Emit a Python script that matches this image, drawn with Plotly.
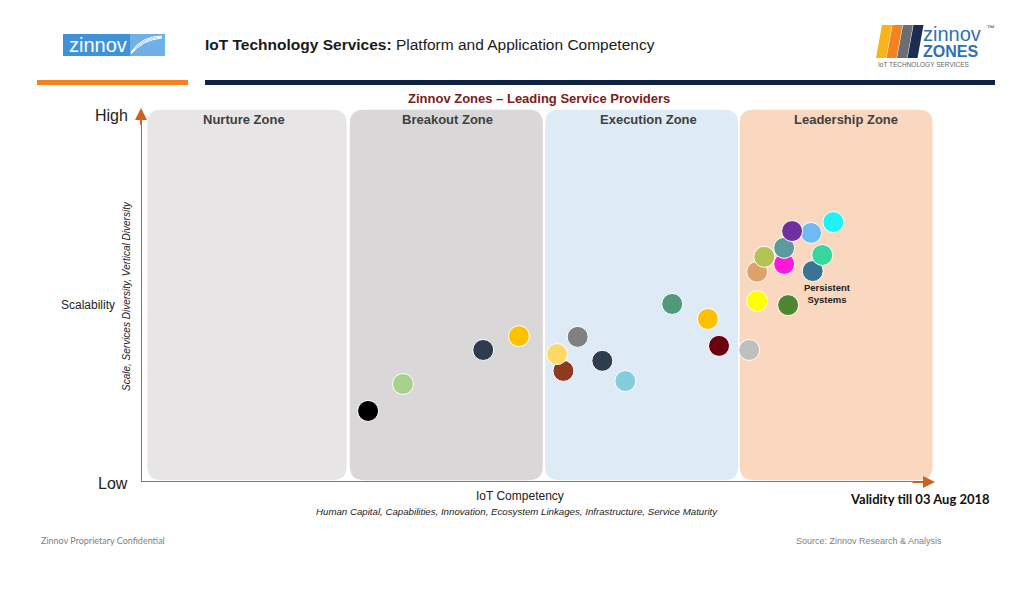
import plotly.graph_objects as go

W, H = 1024, 605

# ---------------- data ----------------
zone_names = ["Nurture Zone", "Breakout Zone", "Execution Zone", "Leadership Zone"]
zone_x0 = [0.8, 26.3, 50.9, 75.4]
zone_x1 = [25.9, 50.6, 75.2, 99.7]
zone_colors = ["#e7e5e6", "#d9d7d8", "#deeaf6", "#fad8bf"]
zone_label_shift = [-0.4, 0.1, 0.9, 1.3]

# IoT competency (x) and scalability (y) scores, drawing order = stacking order
comp = [28.6, 33.0, 43.1, 47.6, 53.2, 52.4, 55.0, 58.1, 61.0, 66.9, 71.4, 72.8,
        76.6, 77.6, 81.5, 77.6, 81.0, 81.0, 78.5, 84.6, 85.8, 84.4, 82.0, 87.2]
scal = [19.0, 26.2, 35.3, 39.0, 29.7, 34.2, 38.8, 32.4, 27.0, 47.6, 43.6, 36.4,
        35.3, 48.4, 47.3, 56.2, 58.3, 62.6, 60.2, 56.4, 60.7, 66.6, 67.1, 69.5]
bubble_colors = ["#000000", "#a9d18e", "#2f3c50", "#ffc000", "#8c3b20", "#ffd966",
                 "#808080", "#2f3c50", "#86cddc", "#4f9a7a", "#ffc000", "#6a0010",
                 "#bfbfbf", "#ffff00", "#4e8632", "#dea26c", "#ff1ada", "#5c9b9b",
                 "#b4c254", "#3a7393", "#36d89e", "#70baf3", "#7030a0", "#1ff2f2"]
highlight_name = "Persistent<br>Systems"
highlight_pos = (86.4, 50.4)


def px(x):
    return x / W


def py(y):
    return 1 - y / H


fig = go.Figure()

fig.add_trace(go.Scatter(
    x=comp, y=scal, mode="markers",
    marker=dict(size=21, color=bubble_colors, line=dict(color="white", width=1)),
    hoverinfo="skip", showlegend=False,
))

shapes = []
# zones with rounded corners (data coordinates)
rx, ry = 1.75, 3.7
y0z, y1z = 0.5, 99.5
for x0, x1, c in zip(zone_x0, zone_x1, zone_colors):
    p = (f"M {x0+rx},{y0z} L {x1-rx},{y0z} Q {x1},{y0z} {x1},{y0z+ry} "
         f"L {x1},{y1z-ry} Q {x1},{y1z} {x1-rx},{y1z} L {x0+rx},{y1z} "
         f"Q {x0},{y1z} {x0},{y1z-ry} L {x0},{y0z+ry} Q {x0},{y0z} {x0+rx},{y0z} Z")
    shapes.append(dict(type="path", path=p, xref="x", yref="y", fillcolor=c,
                       line=dict(width=0), layer="below"))

# axis lines
axis_col = "#d0601e"
shapes.append(dict(type="line", xref="x", yref="y", x0=0, y0=0, x1=99, y1=0,
                   line=dict(color=axis_col, width=2)))
shapes.append(dict(type="line", xref="x", yref="y", x0=0, y0=0, x1=0, y1=98,
                   line=dict(color=axis_col, width=2)))

# header bars
shapes.append(dict(type="rect", xref="paper", yref="paper", x0=px(37), x1=px(188),
                   y0=py(85), y1=py(80), fillcolor="#f58220", line=dict(width=0)))
shapes.append(dict(type="rect", xref="paper", yref="paper", x0=px(205), x1=px(995),
                   y0=py(85), y1=py(80), fillcolor="#0f2346", line=dict(width=0)))

# left logo box
shapes.append(dict(type="rect", xref="paper", yref="paper", x0=px(63), x1=px(165),
                   y0=py(56), y1=py(34), fillcolor="#3f92d6", line=dict(width=0)))
shapes.append(dict(type="rect", xref="paper", yref="paper", x0=px(130), x1=px(165),
                   y0=py(56), y1=py(34), fillcolor="#6fb1e6", line=dict(width=0)))
for k in range(3):
    shapes.append(dict(type="path", xref="paper", yref="paper",
                       path=f"M {px(131)},{py(54-k)} Q {px(142)},{py(40-k*2)} {px(162)},{py(38-k)}",
                       line=dict(color="white", width=1)))

# right logo stripes
stripe_cols = ["#f9b41a", "#f58220", "#6d6e71", "#1b2d50"]
for i, c in enumerate(stripe_cols):
    xb = 876 + i * 10.5
    shapes.append(dict(type="path", xref="paper", yref="paper",
                       path=(f"M {px(xb)},{py(58)} L {px(xb+10)},{py(58)} "
                             f"L {px(xb+16)},{py(25)} L {px(xb+6)},{py(25)} Z"),
                       fillcolor=c, line=dict(width=0)))

ann = []


def text(x, y, t, size, color="#222222", family="Liberation Sans", xanchor="center",
         textangle=0, bold=False):
    if bold:
        t = f"<b>{t}</b>"
    ann.append(dict(x=px(x), y=py(y), xref="paper", yref="paper", text=t,
                    showarrow=False, xanchor=xanchor, yanchor="middle",
                    textangle=textangle,
                    font=dict(size=size, color=color, family=family)))


narrow = "Liberation Sans Narrow, Arial Narrow, Liberation Sans"

# header texts
text(67, 45, "zinnov", 20, color="white", family="Liberation Sans", xanchor="left")
text(203, 44, "<b>IoT Technology Services:</b> Platform and Application Competency",
     15.5, color="#1a1a1a", xanchor="left")
text(921, 34, "zinnov", 20, color="#2f6fb6", xanchor="left")
text(985, 28, "<b>™</b>", 8, color="#2f6fb6", xanchor="left")
text(921, 52, "<b>ZONES</b>", 16, color="#2f6fb6", xanchor="left")
text(876, 64, "IoT TECHNOLOGY SERVICES", 6.5, color="#666666", xanchor="left")

# chart title and zone labels
text(539, 99, "Zinnov Zones – Leading Service Providers", 13, color="#7a2020",
     family=narrow, bold=True)
for name, x0, x1, sh in zip(zone_names, zone_x0, zone_x1, zone_label_shift):
    ann.append(dict(x=(x0 + x1) / 2 + sh, y=py(119), xref="x", yref="paper",
                    text=f"<b>{name}</b>", showarrow=False, yanchor="middle",
                    font=dict(size=13, color="#404040", family=narrow)))

# axis labels
text(111, 116, "High", 16)
text(113, 483, "Low", 16)
text(88, 305, "Scalability", 12)
text(126, 296, "<i>Scale, Services Diversity, Vertical Diversity</i>", 10, textangle=-90)
text(520, 496, "IoT Competency", 12)
text(517, 511, "<i>Human Capital, Capabilities, Innovation, Ecosystem Linkages, "
     "Infrastructure, Service Maturity</i>", 9.7, family=narrow + ", Liberation Sans")
text(920, 499, "Validity till 03 Aug 2018", 13, color="#111111", family="Lato", bold=True)
text(39, 540, "Zinnov Proprietary Confidential", 9, color="#7f7f7f", family="Lato",
     xanchor="left")
text(869, 541, "Source: Zinnov Research & Analysis", 9, color="#7f7f7f", family=narrow)

# highlighted provider label
ann.append(dict(x=highlight_pos[0], y=highlight_pos[1], xref="x", yref="y",
                text=f"<b>{highlight_name}</b>", showarrow=False,
                font=dict(size=9.5, color="#222222", family="Liberation Sans")))

# axis arrowheads
ann.append(dict(x=100, y=0, ax=97, ay=0, xref="x", yref="y", axref="x", ayref="y",
                text=" ", showarrow=True, arrowhead=2, arrowsize=1.2, arrowwidth=2,
                arrowcolor=axis_col, font=dict(size=1)))
ann.append(dict(x=0, y=100, ax=0, ay=95, xref="x", yref="y", axref="x", ayref="y",
                text=" ", showarrow=True, arrowhead=2, arrowsize=1.2, arrowwidth=2,
                arrowcolor=axis_col, font=dict(size=1)))

fig.update_layout(
    width=W, height=H, margin=dict(l=0, r=0, t=0, b=0),
    paper_bgcolor="white", plot_bgcolor="white",
    xaxis=dict(domain=[141 / W, 935 / W], range=[0, 100], showgrid=False,
               zeroline=False, showticklabels=False, showline=False, fixedrange=True),
    yaxis=dict(domain=[1 - 482 / H, 1 - 108 / H], range=[0, 100], showgrid=False,
               zeroline=False, showticklabels=False, showline=False, fixedrange=True),
    shapes=shapes, annotations=ann, showlegend=False,
)

fig.write_html("out.html", config={"displayModeBar": False},
               post_script="document.body.style.margin='0';")
